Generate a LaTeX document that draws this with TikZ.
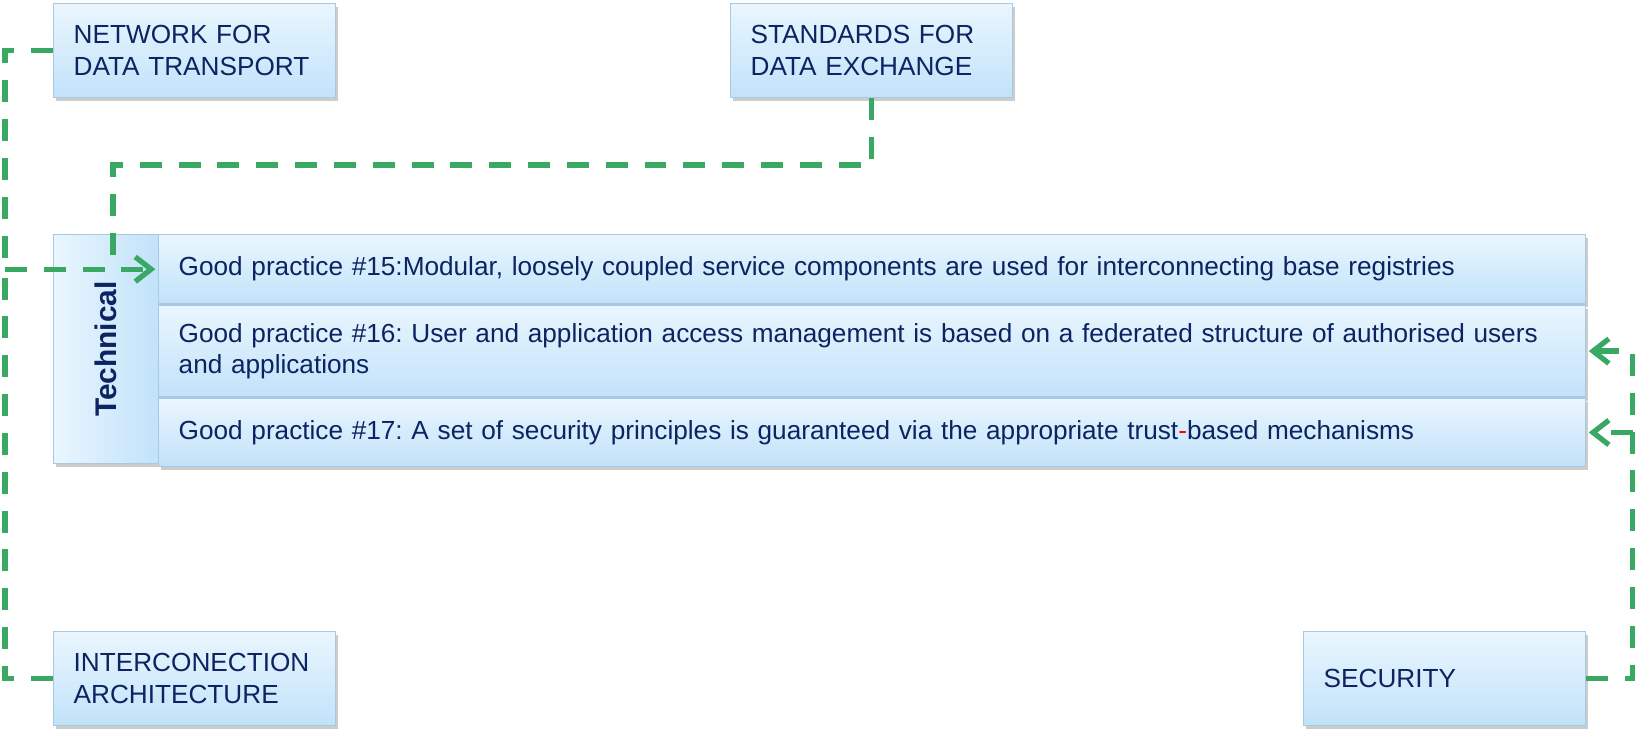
\documentclass[tikz,border=0pt]{standalone}
\usepackage{fontspec}
\setmainfont{Liberation Sans}
\usetikzlibrary{positioning, shadows, arrows.meta, calc}
\frenchspacing

\definecolor{boxtop}{HTML}{EAF6FE}
\definecolor{boxbottom}{HTML}{C1E2FA}
\definecolor{boxline}{HTML}{A9C9E3}
\definecolor{textnavy}{HTML}{0C2461}
\definecolor{linkgreen}{HTML}{38A862}

\tikzset{
  panel/.style={draw=boxline, line width=0.8pt, top color=boxtop, bottom color=boxbottom,
    drop shadow={shadow xshift=1.5pt, shadow yshift=-2pt, fill=black!40, opacity=0.5},
    text=textnavy, font=\fontsize{14.9}{18}\selectfont, align=left, inner xsep=0.4cm,
    anchor=north west},
  sidebox/.style={panel, minimum width=5.64cm, minimum height=1.88cm, text width=4.84cm},
  practice/.style={panel, minimum width=28.54cm, text width=27.74cm},
  link/.style={linkgreen, line width=3pt, dash pattern=on 12.5pt off 9.6pt},
  tip/.style={-{Straight Barb[length=9pt,width=14pt]}, shorten >=1.5pt}
}

\begin{document}
\begin{tikzpicture}[x=0.02cm, y=-0.02cm]
  \useasboundingbox (0,0) rectangle (1635,731);

  % Side boxes
  \node[sidebox] (net) at (53,3) {NETWORK FOR\\DATA TRANSPORT};
  \node[sidebox] (std) at (730,3) {STANDARDS FOR\\DATA EXCHANGE};
  \node[sidebox] (inter) at (53,631) {INTERCONECTION\\ARCHITECTURE};
  \node[sidebox] (sec) at (1303,631) {SECURITY};

  % Technical block
  \node[panel, left color=boxtop, right color=boxbottom, minimum width=2.1cm, minimum height=4.58cm,
    label={[rotate=90, text=textnavy, font=\fontsize{17}{20}\selectfont\bfseries]center:Technical}]
    (tech) at (53,234) {};

  % Good practices
  \node[practice, minimum height=1.38cm] (gp15) at (158,234)
    {Good practice \#15:Modular, loosely coupled service components are used for interconnecting base registries};
  \node[practice, minimum height=1.84cm, below=0pt of gp15] (gp16)
    {Good practice \#16: User and application access management is based on a federated structure of authorised users\\and applications};
  \node[practice, minimum height=1.36cm, below=0pt of gp16] (gp17)
    {Good practice \#17: A set of security principles is guaranteed via the appropriate trust{\color{red}-}based mechanisms};

  % Connectors
  \coordinate (lbus) at (5,0 |- gp15.west);
  \coordinate (sbend) at (113,165);
  \coordinate (rbus) at (1633,0 |- sec.east);
  \draw[link] (net.west) -| (lbus);
  \draw[link] (inter.west) -| (lbus);
  \draw[link, tip] (lbus) -- (gp15.west);
  \draw[link] (std.south) |- (sbend) -- (sbend |- gp15.west);
  \draw[link, tip] (sec.east) -- (rbus) |- (gp16.east);
  \draw[link, tip] (rbus |- gp17.east) -- (gp17.east);
\end{tikzpicture}
\end{document}
